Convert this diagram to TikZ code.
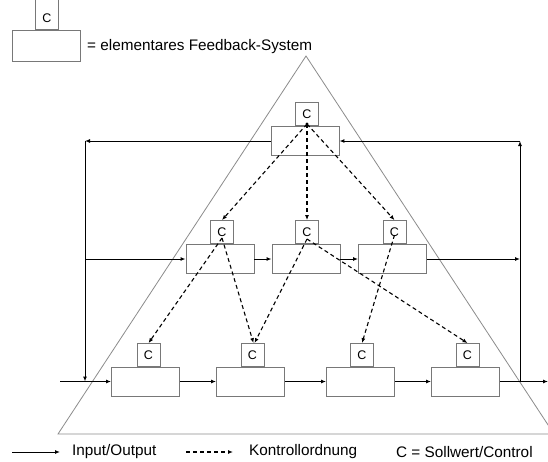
\documentclass[tikz,border=0pt]{standalone}
\usepackage{fontspec}
\setmainfont{Liberation Sans}
\usetikzlibrary{arrows.meta,calc}
\definecolor{boxgray}{RGB}{120,120,120}
\definecolor{trigray}{RGB}{140,140,140}
\begin{document}
\begin{tikzpicture}[x=1pt,y=-1pt,
  fbox/.style={draw=boxgray,fill=white,line width=0.9pt,minimum width=68pt,minimum height=29pt,inner sep=0pt},
  cbox/.style={draw=boxgray,fill=white,line width=0.9pt,minimum width=23pt,minimum height=23pt,inner sep=0pt,font=\fontsize{12.5}{12.5}\selectfont},
  flow/.style={-{Latex[length=5pt,width=4pt]},line width=1pt,black},
  ctrl/.style={-{Latex[length=5pt,width=4pt]},line width=1.1pt,black,dash pattern=on 4pt off 3pt},
  lab/.style={font=\fontsize{15.3}{16}\selectfont,inner sep=0pt,anchor=west}]
\clip (0,0) rectangle (548,461);
\fill[white] (0,0) rectangle (548,461);
% triangle
\draw[trigray,line width=0.8pt] (306,56) -- (58,434) -- (554,434) -- cycle;
% legend top
\node[fbox,minimum height=31pt] (lbox) at (46,45.5) {};
\node[cbox,minimum height=34pt,anchor=south] (lc) at (47,30) {};
\node[font=\fontsize{12.5}{12.5}\selectfont,inner sep=0pt] (lct) at (47,18) {C};
\node[lab] (ltext) at (87,47) {= elementares Feedback-System};
% top
\node[fbox] (t) at (305,140.5) {};
\node[cbox,anchor=south] (tc) at (307,126) {C};
% middle row
\node[fbox] (m1) at (220,259) {};
\node[fbox] (m2) at (306,259) {};
\node[fbox] (m3) at (392.5,259) {};
\node[cbox,anchor=south] (mc1) at (222,244) {C};
\node[cbox,anchor=south] (mc2) at (307,244) {C};
\node[cbox,anchor=south] (mc3) at (394.5,244) {C};
% bottom row
\node[fbox] (b1) at (145.5,381.5) {};
\node[fbox] (b2) at (250.5,381.5) {};
\node[fbox] (b3) at (360.5,381.5) {};
\node[fbox] (b4) at (465.5,381.5) {};
\node[cbox,anchor=south] (bc1) at (148.5,367) {C};
\node[cbox,anchor=south] (bc2) at (252.5,367) {C};
\node[cbox,anchor=south] (bc3) at (362,367) {C};
\node[cbox,anchor=south] (bc4) at (467.5,367) {C};
% coordinates
\coordinate (in) at (60,381.5);
\coordinate (jl) at (85,381.5);
\coordinate (tl) at (85,141);
\coordinate (ml) at (85,259);
\coordinate (tr) at (520,141);
\coordinate (mr) at (520,259);
\coordinate (jr) at (520,381.5);
\coordinate (out) at (548,381.5);
% flows
\draw[flow] (t.west|-tl) -- (tl);
\draw[flow] (tl) -- (jl);
\draw[flow] (in) -- (b1.west);
\draw[flow] (ml) -- (m1.west);
\draw[flow] (m1) -- (m2);
\draw[flow] (m2) -- (m3);
\draw[flow] (m3.east) -- (mr);
\draw[flow] (b1) -- (b2);
\draw[flow] (b2) -- (b3);
\draw[flow] (b3) -- (b4);
\draw[flow] (b4.east) -- (out);
\draw[flow] (jr) -- (tr);
\draw[flow] (tr) -- (t.east|-tr);
% control
\coordinate (ts) at ([yshift=2pt]tc.south);
\coordinate (ms1) at ([yshift=6pt]mc1.south);
\coordinate (ms2) at ([yshift=5pt]mc2.south);
\coordinate (ms3) at ([yshift=9pt]mc3.south);
\fill (ts) circle (1.6pt);
\draw[ctrl] (ts) -- (mc1.north);
\draw[ctrl] (ts) -- (mc2.north);
\draw[ctrl] (ts) -- (mc3.north);
\draw[ctrl] (ms1) -- (bc1.north);
\draw[ctrl] (ms1) -- ([xshift=1pt]bc2.north);
\draw[ctrl] (ms2) -- ([xshift=2pt]bc2.north);
\draw[ctrl] (ms2) -- (bc4.north);
\draw[ctrl] (ms3) -- (bc3.north);
% legend bottom
\coordinate (la0) at (12,452);
\coordinate (la1) at (60,452);
\coordinate (lb0) at (186,452);
\coordinate (lb1) at (233,452);
\draw[flow] (la0) -- (la1);
\draw[ctrl] (lb0) -- (lb1);
\node[lab] (l1) at (72,452) {Input/Output};
\node[lab] (l2) at (249,452) {Kontrollordnung};
\node[lab] (l3) at (396,452) {C = Sollwert/Control};
\end{tikzpicture}
\end{document}
